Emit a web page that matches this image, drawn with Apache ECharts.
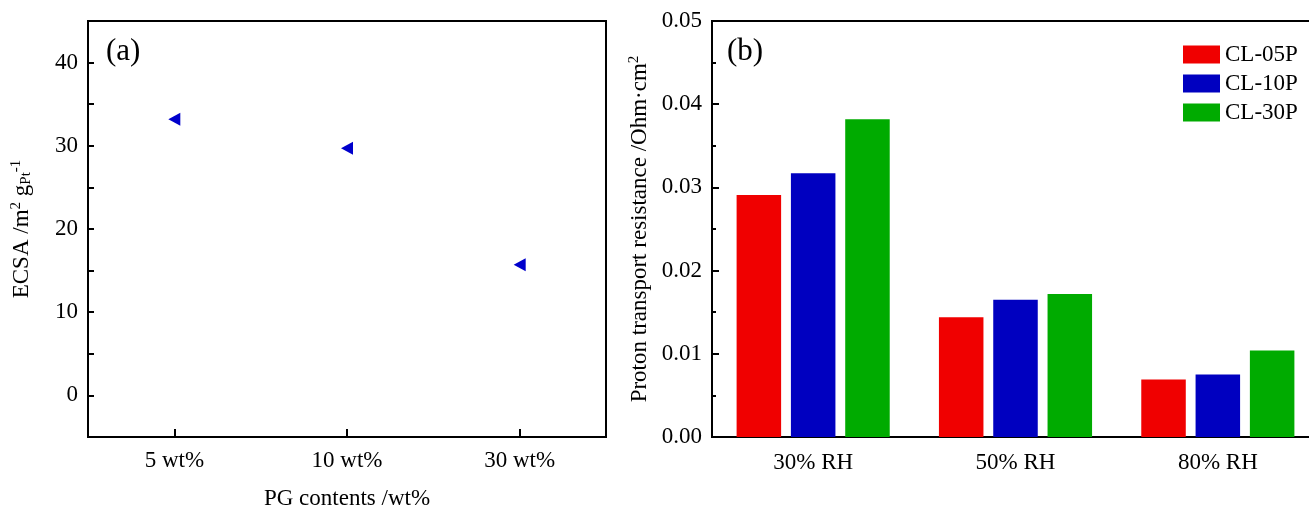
<!DOCTYPE html>
<html lang="en">
<head>
    <meta charset="UTF-8">
    <title>ECSA and proton transport resistance</title>
    <script src="https://cdn.jsdelivr.net/npm/echarts@6/dist/echarts.min.js"></script>
    <style>
        html, body { margin: 0; padding: 0; background: #fff; }
        #main { width: 1309px; height: 512px; }
    </style>
</head>
<body>
<div id="main"></div>
<script>
    // (a) ECSA vs PG content
    const pgContents = ['5 wt%', '10 wt%', '30 wt%'];
    const ecsaValues = [33.2, 29.7, 15.7];
    const ecsaLabels = [0, 10, 20, 30, 40];

    // (b) proton transport resistance per RH
    const rhLevels = ['30% RH', '50% RH', '80% RH'];
    const seriesNames = ['CL-05P', 'CL-10P', 'CL-30P'];
    const cl05p = [0.0291, 0.0144, 0.0069];
    const cl10p = [0.0317, 0.0165, 0.0075];
    const cl30p = [0.0382, 0.0172, 0.0104];

    const font = 'Liberation Serif';
    const fs = 23;
    const barColors = ['#f00000', '#0000c0', '#00ab00'];

    let myChart = echarts.init(document.getElementById('main'));
    let option = {
        backgroundColor: '#fff',
        textStyle: {fontFamily: font, color: '#000'},
        animation: false,
        grid: [
            {left: 88, top: 21, width: 518, height: 416, containLabel: false, outerBoundsMode: 'none',
                show: true, borderColor: '#000', borderWidth: 2},
            {left: 712, top: 21, width: 607, height: 416, containLabel: false, outerBoundsMode: 'none',
                show: true, borderColor: '#000', borderWidth: 2}
        ],
        graphic: [
            {type: 'text', left: 106, top: 36, style: {text: '(a)', font: '31px "Liberation Serif"', fill: '#000'}},
            {type: 'text', left: 727, top: 36, style: {text: '(b)', font: '31px "Liberation Serif"', fill: '#000'}}
        ],
        legend: {
            orient: 'vertical',
            left: 1183,
            top: 43,
            padding: 0,
            itemWidth: 37,
            itemHeight: 18,
            itemGap: 6,
            icon: 'rect',
            data: seriesNames,
            textStyle: {fontFamily: font, fontSize: fs, color: '#000'}
        },
        xAxis: [
            {
                type: 'category',
                gridIndex: 0,
                data: pgContents,
                name: 'PG contents /wt%',
                nameLocation: 'middle',
                nameGap: 50,
                nameTextStyle: {fontFamily: font, fontSize: fs, color: '#000'},
                axisLine: {show: true, onZero: false, lineStyle: {color: '#000', width: 2}},
                axisTick: {show: true, interval: 0, alignWithLabel: true, inside: true, length: 8, lineStyle: {color: '#000', width: 2}},
                axisLabel: {fontFamily: font, fontSize: fs, color: '#000', margin: 12, interval: 0},
                splitLine: {show: false}
            },
            {
                type: 'category',
                gridIndex: 1,
                data: rhLevels,
                axisLine: {show: true, onZero: false, lineStyle: {color: '#000', width: 2}},
                axisTick: {show: false},
                axisLabel: {fontFamily: font, fontSize: fs, color: '#000', margin: 14, interval: 0},
                splitLine: {show: false}
            }
        ],
        yAxis: [
            {
                type: 'value',
                gridIndex: 0,
                min: -5,
                max: 45,
                interval: 5,
                name: 'ECSA /m{sup|2} g{sub|Pt}{sup|-1}',
                nameLocation: 'middle',
                nameGap: 54,
                nameTextStyle: {
                    fontFamily: font, fontSize: fs, color: '#000',
                    rich: {
                        sup: {fontFamily: font, fontSize: 15, color: '#000', verticalAlign: 'top', padding: [0, 0, 10, 0]},
                        sub: {fontFamily: font, fontSize: 15, color: '#000', verticalAlign: 'bottom', padding: [8, 0, 0, 0]}
                    }
                },
                axisLine: {show: true, lineStyle: {color: '#000', width: 2}},
                axisTick: {show: true, inside: true, length: 6, lineStyle: {color: '#000', width: 2}},
                axisLabel: {fontFamily: font, fontSize: fs, color: '#000', margin: 10, customValues: ecsaLabels},
                splitLine: {show: false}
            },
            {
                type: 'value',
                gridIndex: 1,
                min: 0,
                max: 0.05,
                interval: 0.01,
                name: 'Proton transport resistance /Ohm·cm{sup|2}',
                nameLocation: 'middle',
                nameGap: 60,
                nameTextStyle: {
                    fontFamily: font, fontSize: fs, color: '#000',
                    rich: {
                        sup: {fontFamily: font, fontSize: 15, color: '#000', verticalAlign: 'top', padding: [0, 0, 10, 0]}
                    }
                },
                axisLine: {show: true, lineStyle: {color: '#000', width: 2}},
                axisTick: {show: true, inside: true, length: 7, lineStyle: {color: '#000', width: 2}},
                minorTick: {show: true, splitNumber: 2, length: 4, lineStyle: {color: '#000', width: 2}},
                axisLabel: {fontFamily: font, fontSize: fs, color: '#000', margin: 10, formatter: v => v.toFixed(2)},
                splitLine: {show: false}
            }
        ],
        series: [
            {
                name: 'ECSA',
                type: 'scatter',
                xAxisIndex: 0,
                yAxisIndex: 0,
                symbol: 'path://M0,6 L11,0 L11,12 Z',
                symbolSize: [12, 13],
                itemStyle: {color: '#0000cc', opacity: 1},
                data: ecsaValues
            },
            {
                name: seriesNames[0], type: 'bar', xAxisIndex: 1, yAxisIndex: 1,
                barWidth: '22%', barGap: '22%',
                itemStyle: {color: barColors[0]},
                data: cl05p
            },
            {
                name: seriesNames[1], type: 'bar', xAxisIndex: 1, yAxisIndex: 1,
                barWidth: '22%', barGap: '22%',
                itemStyle: {color: barColors[1]},
                data: cl10p
            },
            {
                name: seriesNames[2], type: 'bar', xAxisIndex: 1, yAxisIndex: 1,
                barWidth: '22%', barGap: '22%',
                itemStyle: {color: barColors[2]},
                data: cl30p
            }
        ]
    };
    myChart.setOption(option);
</script>
</body>
</html>
